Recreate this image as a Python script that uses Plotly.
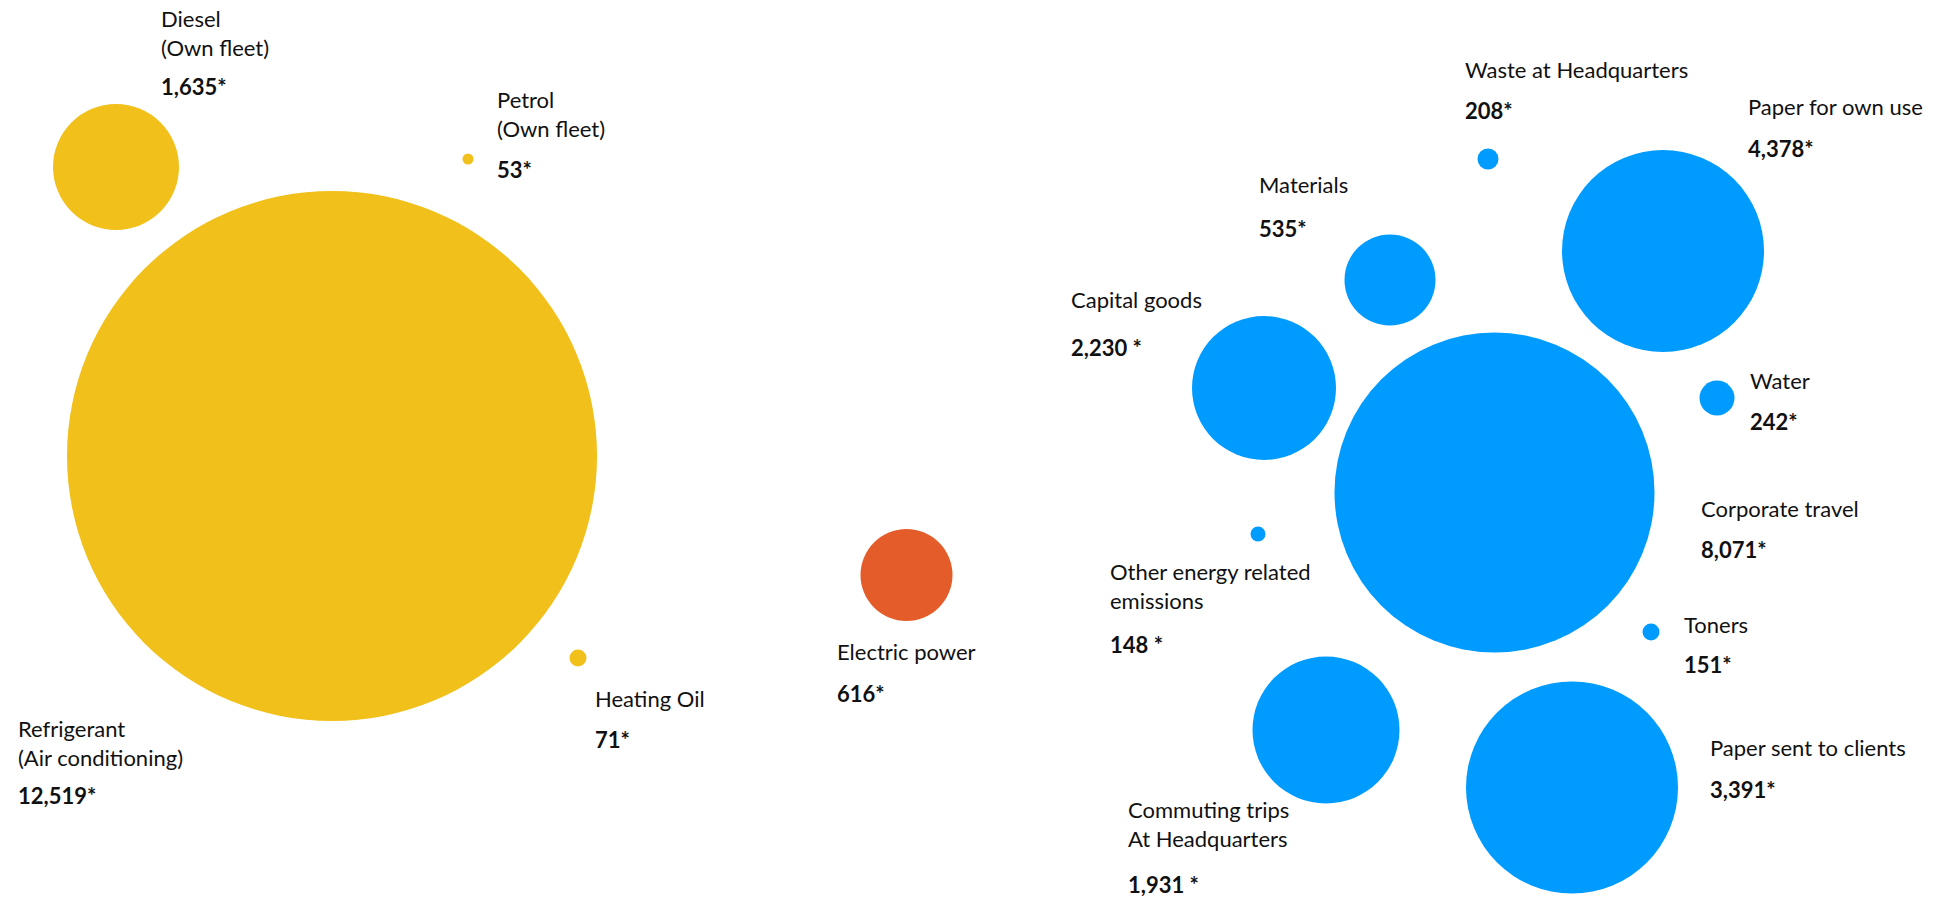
import plotly.graph_objects as go

# ---------------- data ----------------
categories = [
    "Diesel<br>(Own fleet)", "Petrol<br>(Own fleet)", "Refrigerant<br>(Air conditioning)", "Heating Oil",
    "Electric power",
    "Waste at Headquarters", "Paper for own use", "Materials", "Capital goods", "Water",
    "Corporate travel", "Other energy related<br>emissions", "Toners",
    "Commuting trips<br>At Headquarters", "Paper sent to clients",
]
values = [1635, 53, 12519, 71, 616, 208, 4378, 535, 2230, 242, 8071, 148, 151, 1931, 3391]
value_suffix = ["*", "*", "*", "*", "*", "*", "*", "*", " *", "*", "*", " *", "*", " *", "*"]
groups = ["Scope 1"] * 4 + ["Scope 2"] + ["Scope 3"] * 10

# ---------------- layout / style ----------------
W, H = 1937, 899
group_colors = {"Scope 1": "#F1C01A", "Scope 2": "#E45C29", "Scope 3": "#009BFF"}

bubble_x = [116, 468, 332, 578, 906.5, 1488, 1663, 1390, 1264, 1717, 1494.5, 1258, 1651, 1326, 1572]
bubble_y = [167, 159, 456, 658, 575, 159, 251, 280, 388, 398, 492.5, 534, 632, 730, 787.5]
bubble_d = [126, 11, 530, 17, 92, 21, 202, 91, 144, 35, 320, 15, 17, 147, 212]

label_x = [161, 497, 18, 595, 837, 1465, 1748, 1259, 1071, 1750, 1701, 1110, 1684, 1128, 1710]
label_base = [27, 108, 737, 707, 660, 78, 115, 193, 308, 389, 517, 580, 633, 818, 756]
value_base = [95, 178, 804, 748, 702, 119, 157, 237, 356, 430, 558, 653, 673, 893, 798]

FS = 22
FONT = "Lato"

fig = go.Figure()

for g, col in group_colors.items():
    idx = [i for i, gg in enumerate(groups) if gg == g]
    fig.add_trace(go.Scatter(
        x=[bubble_x[i] for i in idx],
        y=[bubble_y[i] for i in idx],
        mode="markers",
        marker=dict(size=[bubble_d[i] for i in idx], color=col, opacity=1,
                    line=dict(width=0)),
        name=g,
        hoverinfo="skip",
        showlegend=False,
        cliponaxis=False,
    ))

# category labels
fig.add_trace(go.Scatter(
    x=label_x,
    y=[b - 0.75 * FS for b in label_base],
    mode="text",
    text=categories,
    textposition="bottom right",
    textfont=dict(family=FONT, size=FS, color="#111111"),
    hoverinfo="skip",
    showlegend=False,
    cliponaxis=False,
))

# value labels
fig.add_trace(go.Scatter(
    x=label_x,
    y=[b - 0.75 * FS for b in value_base],
    mode="text",
    text=[f"<b>{v:,}{s}</b>" for v, s in zip(values, value_suffix)],
    textposition="bottom right",
    textfont=dict(family=FONT, size=FS, color="#111111"),
    hoverinfo="skip",
    showlegend=False,
    cliponaxis=False,
))

fig.update_layout(
    width=W, height=H,
    margin=dict(l=0, r=0, t=0, b=0),
    paper_bgcolor="white", plot_bgcolor="white",
    xaxis=dict(range=[0, W], visible=False, fixedrange=True),
    yaxis=dict(range=[H, 0], visible=False, fixedrange=True),
    hovermode=False,
)

fig.write_html(
    "out.html",
    config={"displayModeBar": False},
    post_script="document.body.style.margin='0px';document.body.style.overflow='hidden';",
)
